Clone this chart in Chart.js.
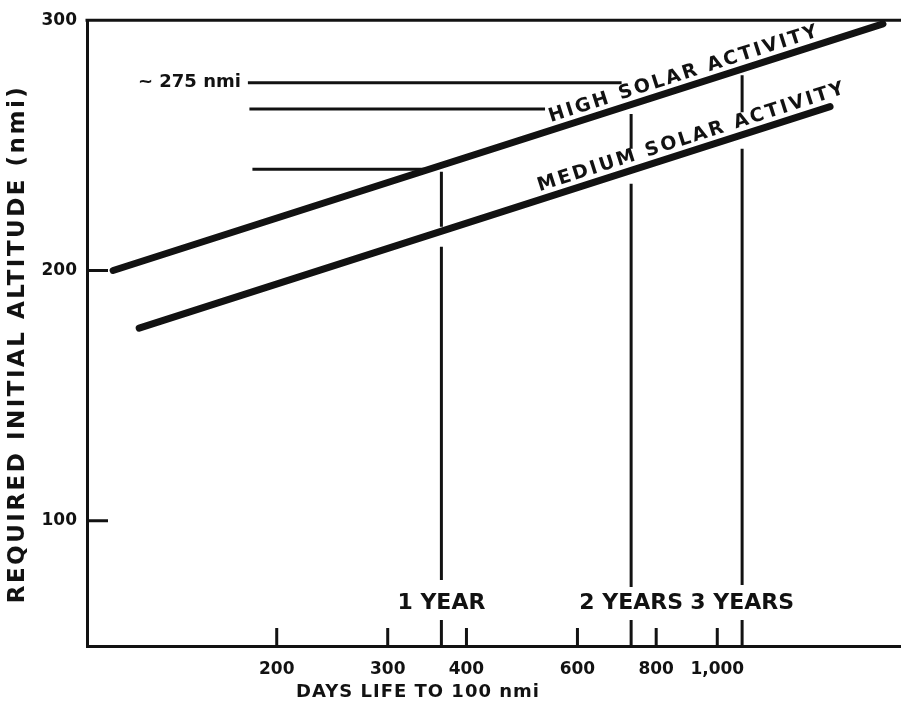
<!DOCTYPE html>
<html>
<head>
<meta charset="utf-8">
<script src="https://cdn.jsdelivr.net/npm/chart.js@4.4.0/dist/chart.umd.min.js"></script>
<style>
  html, body { margin: 0; padding: 0; background: #fff; overflow: hidden; }
  #wrap { width: 907px; height: 708px; }
</style>
</head>
<body>
<div id="wrap"><canvas id="c"></canvas></div>
<script>
// Axis ticks
const xTickDays = [200, 300, 400, 600, 800, 1000];
const yTickAlt = [100, 200, 300];

// Required initial altitude (nmi) vs. days of life to 100 nmi
const highDays = [110, 1832];
const highAlt = [200, 298.5];
const mediumDays = [121, 1510];
const mediumAlt = [177, 265.5];
const curveNames = ['HIGH SOLAR ACTIVITY', 'MEDIUM SOLAR ACTIVITY'];
const curveLabelDays = [549, 527];

// Horizontal reading lines
const refAlt = [275, 264.5, 240.5];
const refFromDays = [180, 181, 183];
const refToDays = [705, 533, 354];
const altNote = '~ 275 nmi';

// Mission-length markers (vertical reading lines, split around the medium curve)
const yearDays = [365, 730, 1095];
const yearLabels = ['1 YEAR', '2 YEARS', '3 YEARS'];
const yearLabelAlt = 67;
const upperTopAlt = [239.5, 262.5, 278];
const upperBottomAlt = [217.5, 248.6, 263.2];
const lowerTopAlt = [209.5, 234.7, 248.6];
const lowerBottomAlt = [76.4, 73.6, 74.4];

const INK = '#121212';
const FONT = '"DejaVu Sans", sans-serif';

function pts(xs, ys) { return xs.map((x, i) => ({ x: x, y: ys[i] })); }
function thin(data) {
  return { data: data, borderColor: INK, borderWidth: 3, pointRadius: 0, borderCapStyle: 'butt', fill: false, tension: 0 };
}

const datasets = [
  { data: pts(highDays, highAlt), borderColor: INK, borderWidth: 7, pointRadius: 0, borderCapStyle: 'round', fill: false, tension: 0 },
  { data: pts(mediumDays, mediumAlt), borderColor: INK, borderWidth: 7, pointRadius: 0, borderCapStyle: 'round', fill: false, tension: 0 }
];
refAlt.forEach((a, i) => {
  datasets.push(thin([{ x: refFromDays[i], y: a }, { x: refToDays[i], y: a }]));
});
yearDays.forEach((d, i) => {
  datasets.push(thin([{ x: d, y: upperTopAlt[i] }, { x: d, y: upperBottomAlt[i] }]));
  datasets.push(thin([{ x: d, y: lowerTopAlt[i] }, { x: d, y: lowerBottomAlt[i] }]));
});

const annotate = {
  id: 'annotate',
  afterDraw(chart) {
    const ctx = chart.ctx;
    const xs = chart.scales.x, ys = chart.scales.y;
    const a = chart.chartArea;
    ctx.save();
    ctx.strokeStyle = INK;
    ctx.fillStyle = INK;

    // top frame line
    ctx.lineWidth = 3;
    ctx.beginPath();
    ctx.moveTo(a.left - 1.5, a.top);
    ctx.lineTo(a.right, a.top);
    ctx.stroke();

    // inward tick marks
    ctx.lineWidth = 3;
    ctx.beginPath();
    yTickAlt.filter(v => v < ys.max).forEach(v => {
      const y = ys.getPixelForValue(v);
      ctx.moveTo(a.left, y); ctx.lineTo(a.left + 21, y);
    });
    xTickDays.forEach(v => {
      const x = xs.getPixelForValue(v);
      ctx.moveTo(x, a.bottom); ctx.lineTo(x, a.bottom - 18);
    });
    yearDays.forEach(v => {
      const x = xs.getPixelForValue(v);
      ctx.moveTo(x, a.bottom); ctx.lineTo(x, a.bottom - 26);
    });
    ctx.stroke();

    // year labels
    ctx.font = 'bold 22px ' + FONT;
    ctx.textAlign = 'center';
    ctx.textBaseline = 'middle';
    yearDays.forEach((d, i) => {
      ctx.fillText(yearLabels[i], xs.getPixelForValue(d), ys.getPixelForValue(yearLabelAlt));
    });

    // altitude note
    ctx.font = 'bold 18px ' + FONT;
    ctx.textAlign = 'right';
    ctx.fillText(altNote, xs.getPixelForValue(refFromDays[0]) - 7, ys.getPixelForValue(refAlt[0]));

    // curve labels, set along each line
    ctx.font = 'bold 19px ' + FONT;
    ctx.letterSpacing = '2.5px';
    ctx.textAlign = 'left';
    ctx.textBaseline = 'alphabetic';
    [0, 1].forEach(i => {
      const pts = chart.getDatasetMeta(i).data;
      const p0 = pts[0], p1 = pts[pts.length - 1];
      const ang = Math.atan2(p1.y - p0.y, p1.x - p0.x);
      const px = xs.getPixelForValue(curveLabelDays[i]);
      const py = p0.y + (px - p0.x) * Math.tan(ang);
      ctx.save();
      ctx.translate(px, py);
      ctx.rotate(ang);
      ctx.fillText(curveNames[i], 0, -8);
      ctx.restore();
    });

    // axis titles
    ctx.letterSpacing = '2.5px';
    ctx.font = 'bold 23px ' + FONT;
    ctx.textAlign = 'center';
    ctx.textBaseline = 'middle';
    ctx.save();
    ctx.translate(18, 344);
    ctx.rotate(-Math.PI / 2);
    ctx.fillText('REQUIRED INITIAL ALTITUDE (nmi)', 0, 0);
    ctx.restore();

    ctx.letterSpacing = '1px';
    ctx.font = 'bold 18px ' + FONT;
    ctx.fillText('DAYS LIFE TO 100 nmi', 418, 692);
    ctx.restore();
  }
};

new Chart(document.getElementById('c'), {
  type: 'line',
  data: { datasets: datasets },
  options: {
    responsive: true,
    maintainAspectRatio: false,
    animation: false,
    layout: { padding: { top: 15, right: 0, bottom: 0, left: 0 } },
    plugins: { legend: { display: false }, tooltip: { enabled: false } },
    scales: {
      x: {
        type: 'logarithmic',
        min: 100,
        max: 2000,
        afterBuildTicks: s => { s.ticks = xTickDays.map(v => ({ value: v })); },
        afterFit: s => { s.height = 62; },
        grid: { display: false, drawTicks: false },
        border: { display: true, color: INK, width: 3 },
        ticks: {
          color: INK,
          autoSkip: false,
          maxRotation: 0,
          padding: 13,
          font: { family: FONT, size: 17, weight: 'bold' },
          callback: v => Number(v).toLocaleString('en-US')
        }
      },
      y: {
        type: 'linear',
        min: 50,
        max: 300,
        afterBuildTicks: s => { s.ticks = yTickAlt.map(v => ({ value: v })); },
        afterFit: s => { s.width = 87; },
        grid: { display: false, drawTicks: false },
        border: { display: true, color: INK, width: 3 },
        ticks: {
          color: INK,
          padding: 10,
          font: { family: FONT, size: 17, weight: 'bold' }
        }
      }
    }
  },
  plugins: [annotate]
});
</script>
</body>
</html>
